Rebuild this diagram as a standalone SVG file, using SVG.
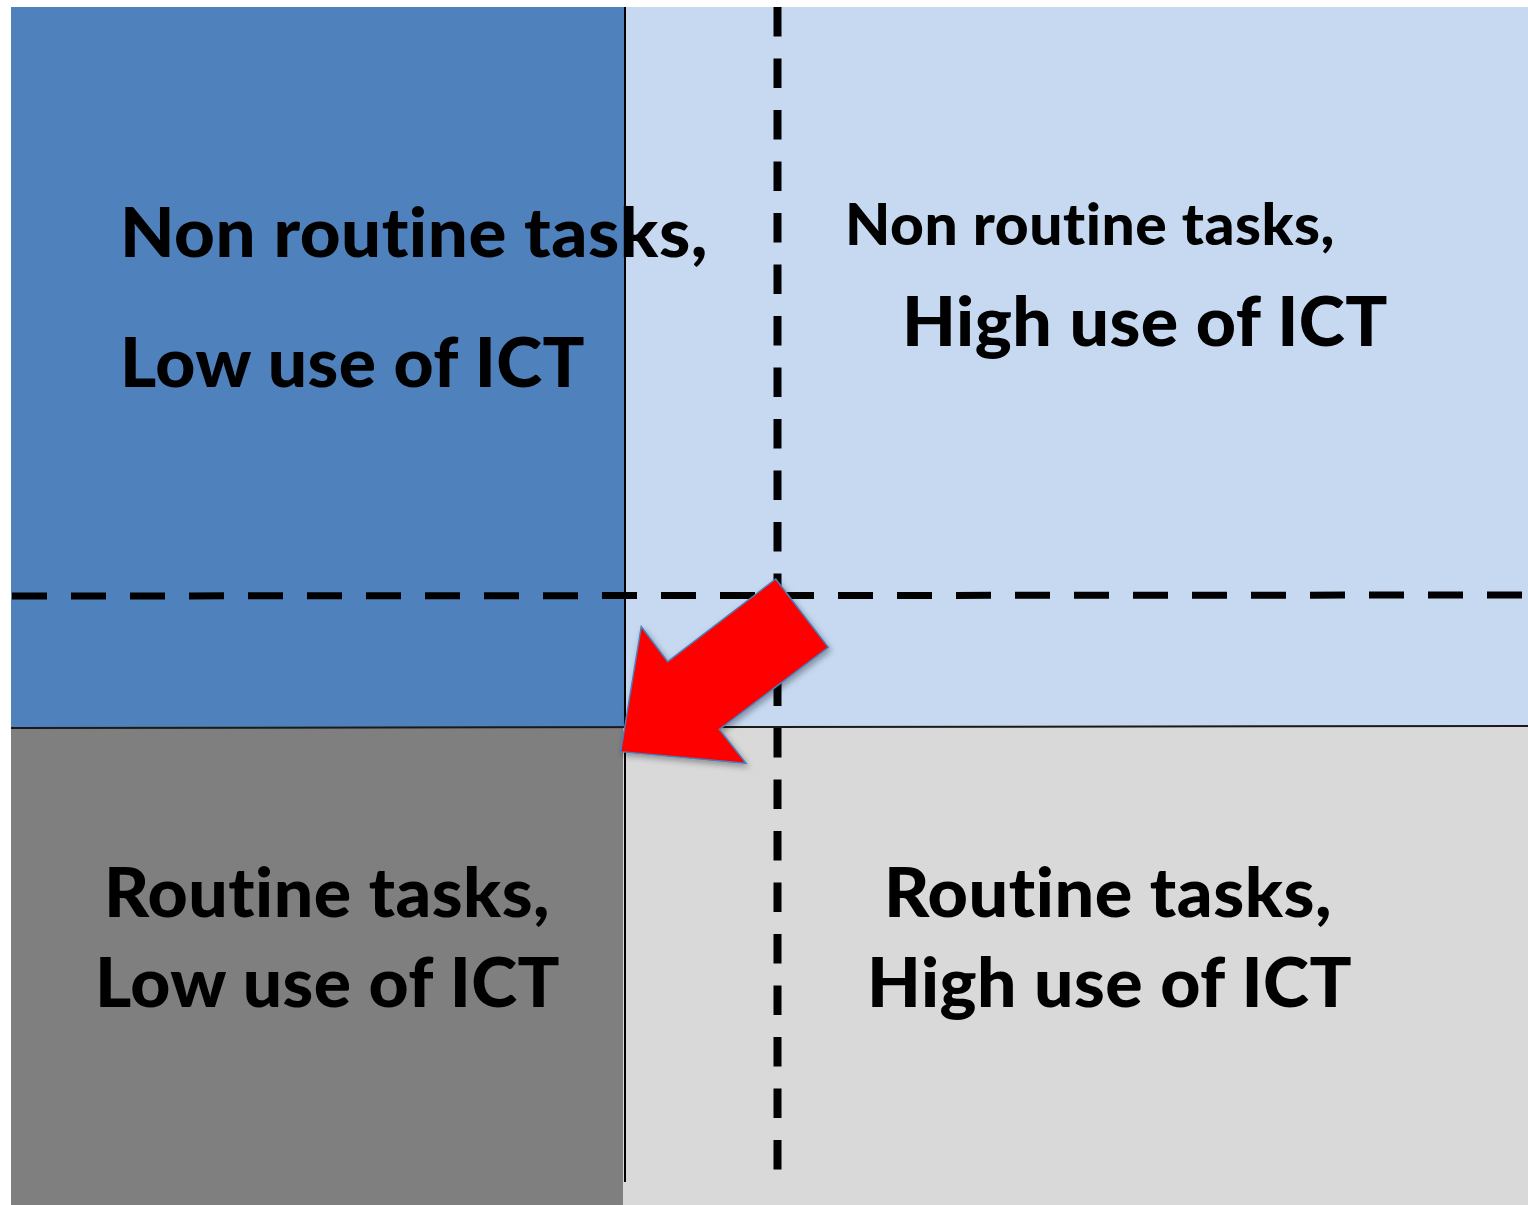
<svg xmlns="http://www.w3.org/2000/svg" width="1528" height="1205" viewBox="0 0 1528 1205">
<style>
.lbl{font-family:Lato,"DejaVu Sans",sans-serif;font-weight:900;fill:#000;font-variant-ligatures:none;letter-spacing:0.5px}
.big{font-size:69px}
.small{font-size:58px}
.dash{stroke:#000;fill:none}
</style>
<defs>
<filter id="sh" x="-20%" y="-20%" width="140%" height="140%">
<feDropShadow dx="2" dy="3" stdDeviation="3" flood-color="#000" flood-opacity="0.35"/>
</filter>
</defs>
<rect x="0" y="0" width="1528" height="1205" fill="#fff"/>
<g id="q-nonroutine-low">
<rect x="11" y="7" width="614" height="721" fill="#4F81BD"/>
</g>
<g id="q-nonroutine-high">
<rect x="625" y="7" width="903" height="720" fill="#C6D9F1"/>
</g>
<g id="q-routine-low">
<rect x="11" y="728" width="612" height="477" fill="#7F7F7F"/>
</g>
<g id="q-routine-high">
<rect x="623" y="727" width="905" height="478" fill="#D9D9D9"/>
</g>
<g id="connectors">
<line x1="625" y1="7" x2="625" y2="1182" stroke="#000" stroke-width="2"/>
<line x1="11" y1="728" x2="1528" y2="726" stroke="#1a1a1a" stroke-width="2"/>
<line class="dash" x1="777.5" y1="7" x2="777.5" y2="1170" stroke-width="8" stroke-dasharray="29.5 22"/>
<line class="dash" x1="12" y1="596" x2="1528" y2="595" stroke-width="7" stroke-dasharray="35 24"/>
<polygon points="775.7,579 828.3,647.3 719.3,729.3 746,763.3 620.7,751.7 641.3,626.7 667.7,661.7" fill="#FF0000" stroke="#4A7EBB" stroke-width="1.5" stroke-linejoin="miter" filter="url(#sh)"/>
</g>
<g id="t-nonroutine-low">
<text class="lbl big" x="120" y="257" textLength="588" lengthAdjust="spacingAndGlyphs">Non routine tasks,</text>
<text class="lbl big" x="120" y="387" textLength="465" lengthAdjust="spacingAndGlyphs">Low use of ICT</text>
</g>
<g id="t-nonroutine-high">
<text class="lbl small" x="845" y="245" textLength="490" lengthAdjust="spacingAndGlyphs">Non routine tasks,</text>
<text class="lbl big" x="902" y="346" textLength="486" lengthAdjust="spacingAndGlyphs">High use of ICT</text>
</g>
<g id="t-routine-low">
<text class="lbl big" x="104" y="917" textLength="446" lengthAdjust="spacingAndGlyphs">Routine tasks,</text>
<text class="lbl big" x="95" y="1007" textLength="465" lengthAdjust="spacingAndGlyphs">Low use of ICT</text>
</g>
<g id="t-routine-high">
<text class="lbl big" x="884" y="917" textLength="448" lengthAdjust="spacingAndGlyphs">Routine tasks,</text>
<text class="lbl big" x="867" y="1007" textLength="485" lengthAdjust="spacingAndGlyphs">High use of ICT</text>
</g>
</svg>
